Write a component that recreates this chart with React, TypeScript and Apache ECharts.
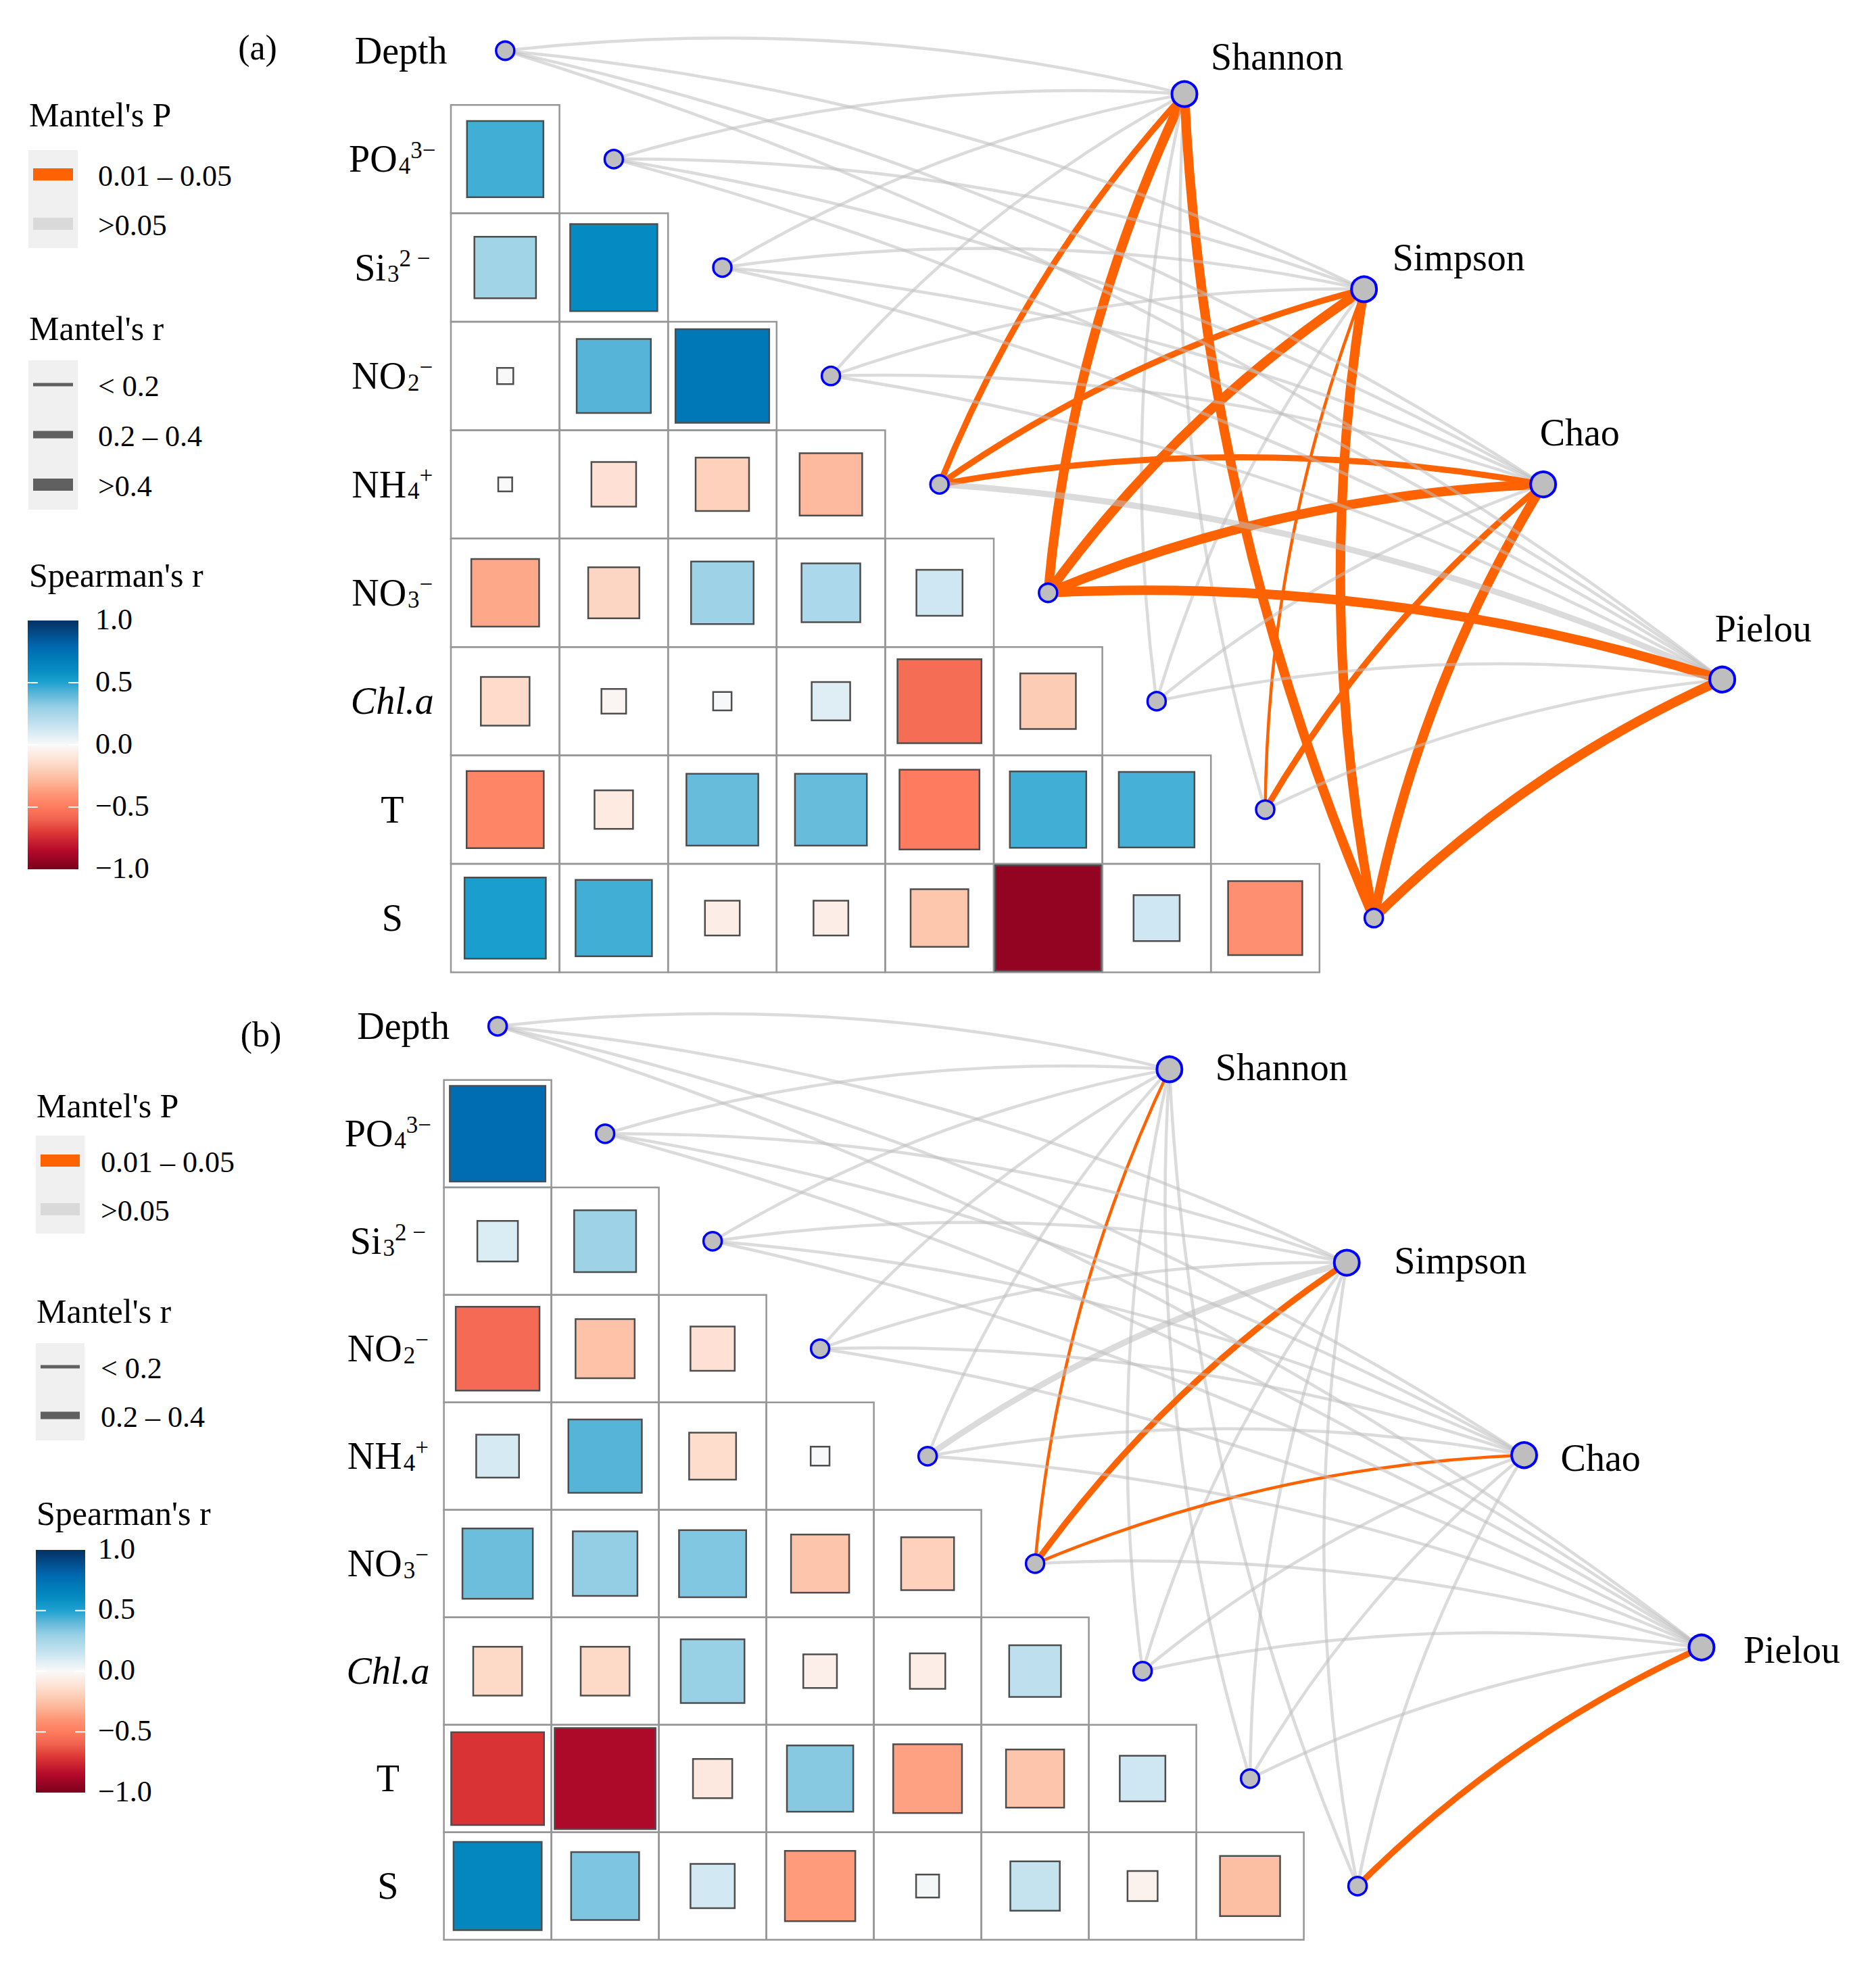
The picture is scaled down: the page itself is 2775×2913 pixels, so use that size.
import React, { useEffect, useRef } from "react";
import * as echarts from "echarts";

const FONT = '"Liberation Serif", "Times New Roman", Times, serif';

// ---------------- data ----------------
const VARIABLES = ["Depth", "PO4", "Si", "NO2", "NH4", "NO3", "Chl.a", "T", "S"];
// label parts: [main, subscript, superscript, italic?]
const VARIABLE_LABEL_PARTS: [string, string, string, boolean][] = [
  ["Depth", "", "", false],
  ["PO", "4", "3−", false],
  ["Si", "3", "2 −", false],
  ["NO", "2", "−", false],
  ["NH", "4", "+", false],
  ["NO", "3", "−", false],
  ["Chl.a", "", "", true],
  ["T", "", "", false],
  ["S", "", "", false],
];
const TARGETS = ["Shannon", "Simpson", "Chao", "Pielou"];

// Spearman's r, lower triangle (row i, columns 0..i-1)
const SPEARMAN_A = [
  [],
  [0.45],
  [0.27, 0.61],
  [-0.003, 0.42, 0.72],
  [-0.001, -0.12, -0.19, -0.28],
  [-0.34, -0.17, 0.28, 0.24, 0.13],
  [-0.15, -0.02, 0.006, 0.08, -0.56, -0.21],
  [-0.46, -0.08, 0.39, 0.39, -0.5, 0.45, 0.44],
  [0.52, 0.45, -0.06, -0.06, -0.23, -0.94, 0.13, -0.42],
];
const SPEARMAN_B = [
  [],
  [0.77],
  [0.095, 0.28],
  [-0.57, -0.25, -0.12],
  [0.11, 0.42, -0.14, 0.007],
  [0.38, 0.31, 0.34, -0.24, -0.19],
  [-0.155, -0.155, 0.3, -0.056, -0.065, 0.18],
  [-0.72, -0.87, -0.087, 0.33, -0.36, -0.24, 0.13],
  [0.64, 0.35, 0.12, -0.38, 0.016, 0.16, -0.04, -0.26],
];

// Mantel's P class per target (rows) and variable (cols): 1 = 0.01–0.05, 0 = >0.05
const MANTEL_P_A = [
  [0, 0, 0, 0, 1, 1, 0, 0, 1],
  [0, 0, 0, 0, 1, 1, 0, 1, 1],
  [0, 0, 0, 0, 1, 1, 0, 1, 1],
  [0, 0, 0, 0, 0, 1, 0, 0, 1],
];
// Mantel's r class: 0 = <0.2, 1 = 0.2–0.4, 2 = >0.4
const MANTEL_R_A = [
  [0, 0, 0, 0, 1, 2, 0, 0, 2],
  [0, 0, 0, 0, 1, 2, 0, 0, 2],
  [0, 0, 0, 0, 1, 2, 0, 1, 2],
  [0, 0, 0, 0, 1, 2, 0, 0, 2],
];
const MANTEL_P_B = [
  [0, 0, 0, 0, 0, 1, 0, 0, 0],
  [0, 0, 0, 0, 0, 1, 0, 0, 0],
  [0, 0, 0, 0, 0, 1, 0, 0, 0],
  [0, 0, 0, 0, 0, 0, 0, 0, 1],
];
const MANTEL_R_B = [
  [0, 0, 0, 0, 0, 0, 0, 0, 0],
  [0, 0, 0, 0, 1, 1, 0, 0, 0],
  [0, 0, 0, 0, 0, 0, 0, 0, 0],
  [0, 0, 0, 0, 0, 0, 0, 0, 1],
];

const P_CLASS_LABELS = ["0.01 – 0.05", ">0.05"];
const R_CLASS_LABELS_A = ["< 0.2", "0.2 – 0.4", ">0.4"];
const R_CLASS_LABELS_B = ["< 0.2", "0.2 – 0.4"];
const COLORBAR_TICKS = [1.0, 0.5, 0.0, -0.5, -1.0];
const COLORBAR_TICK_LABELS = ["1.0", "0.5", "0.0", "−0.5", "−1.0"];

// ---------------- styles ----------------
const ORANGE = "#FF6200";
const GRAY_LINK = "#BDBDBD";
const LINE_WIDTHS = [4.5, 9, 14];
const LEGEND_LINE_WIDTHS = [5, 11, 18];
const CURVENESS = 0.09;
const MAIN_SIZE = 56;
const SCRIPT_SIZE = 35;

const PALETTE: [number, string][] = [
  [-1, "#7A001C"],
  [-0.85, "#B50A2B"],
  [-0.7, "#DE3936"],
  [-0.6, "#F0634F"],
  [-0.5, "#FF7B5F"],
  [-0.4, "#FE9474"],
  [-0.3, "#FDB597"],
  [-0.2, "#FDCFB8"],
  [-0.1, "#FEE6DB"],
  [0, "#F9F9F9"],
  [0.1, "#D8EBF4"],
  [0.2, "#B8DDEC"],
  [0.3, "#98D0E6"],
  [0.4, "#62B9DA"],
  [0.5, "#1FA2D0"],
  [0.6, "#068DC2"],
  [0.7, "#007BB8"],
  [0.8, "#0066AE"],
  [1, "#063062"],
];

function hexToRgb(h: string) {
  const n = parseInt(h.slice(1), 16);
  return [(n >> 16) & 255, (n >> 8) & 255, n & 255];
}
function lerpColor(a: string, b: string, t: number) {
  const ca = hexToRgb(a);
  const cb = hexToRgb(b);
  const c = ca.map((v, i) => Math.round(v + (cb[i] - v) * t));
  return `rgb(${c[0]},${c[1]},${c[2]})`;
}
function spearmanColor(r: number) {
  const v = Math.max(-1, Math.min(1, r));
  for (let k = 0; k < PALETTE.length - 1; k++) {
    const [v0, c0] = PALETTE[k];
    const [v1, c1] = PALETTE[k + 1];
    if (v >= v0 && v <= v1) return lerpColor(c0, c1, (v - v0) / (v1 - v0));
  }
  return PALETTE[PALETTE.length - 1][1];
}

let measureCtx: CanvasRenderingContext2D | null = null;
function measure(text: string, size: number, italic = false) {
  if (!text) return 0;
  if (!measureCtx) measureCtx = document.createElement("canvas").getContext("2d");
  if (!measureCtx) return text.length * size * 0.5;
  measureCtx.font = `${italic ? "italic " : ""}${size}px ${FONT}`;
  return measureCtx.measureText(text).width;
}

// ---------------- layout ----------------
const PANELS = [
  {
    corr: SPEARMAN_A,
    mp: MANTEL_P_A,
    mr: MANTEL_R_A,
    left: 667,
    cellW: 160.6,
    row0: 75,
    cellH: 160.4,
    labelX: -1.04,
    depthLabelX: -0.96,
    targetPos: [
      [6.256, 0.4],
      [7.91, 2.2],
      [9.56, 4.0],
      [11.21, 5.8],
    ],
    targetLabelOffset: [
      [39, -55],
      [42, -47],
      [-5, -77],
      [-11, -75],
    ],
  },
  {
    corr: SPEARMAN_B,
    mp: MANTEL_P_B,
    mr: MANTEL_R_B,
    left: 656.6,
    cellW: 159,
    row0: 1518.3,
    cellH: 159,
    labelX: -1.02,
    depthLabelX: -0.877,
    targetPos: [
      [6.25, 0.4],
      [7.9, 2.2],
      [9.55, 3.99],
      [11.2, 5.78],
    ],
    targetLabelOffset: [
      [68, -3],
      [70, -3],
      [54, 4],
      [62, 4],
    ],
  },
];

const LEGENDS = [
  {
    tag: "(a)", tagX: 381, tagY: 70,
    x: 43, pTitleY: 170, bgX: 42, bgW: 73, pBgY: 222, pBgH: 145, pKeyY: [258, 331],
    rTitleY: 486, rBgY: 533, rBgH: 221, rKeyY: [569, 643, 717], rLabels: R_CLASS_LABELS_A,
    sTitleY: 851, barX: 41, barW: 75, barTop: 918, barBottom: 1286, labelX: 145,
  },
  {
    tag: "(b)", tagX: 386, tagY: 1530,
    x: 54, pTitleY: 1636, bgX: 53, bgW: 72, pBgY: 1680, pBgH: 145, pKeyY: [1717, 1789],
    rTitleY: 1940, rBgY: 1987, rBgH: 144, rKeyY: [2022, 2094], rLabels: R_CLASS_LABELS_B,
    sTitleY: 2239, barX: 53, barW: 73, barTop: 2293, barBottom: 2652, labelX: 149,
  },
];

function textEl(x: number, y: number, text: string, size: number, align = "left") {
  return {
    type: "text",
    x,
    y,
    silent: true,
    z: 10,
    style: {
      text,
      fontSize: size,
      fontFamily: FONT,
      fill: "#000",
      align,
      verticalAlign: "middle",
      textAlign: align,
      textVerticalAlign: "middle",
    },
  };
}

function legendElements(L: any) {
  const els: any[] = [];
  els.push(textEl(L.tagX, L.tagY, L.tag, 52, "center"));
  // Mantel's P
  els.push(textEl(L.x, L.pTitleY, "Mantel's P", 50));
  els.push({ type: "rect", silent: true, z: 5, shape: { x: L.bgX, y: L.pBgY, width: L.bgW, height: L.pBgH }, style: { fill: "#F0F0F0" } });
  P_CLASS_LABELS.forEach((lab, k) => {
    const y = L.pKeyY[k];
    els.push({
      type: "rect", silent: true, z: 6,
      shape: { x: L.bgX + 7, y: y - 9, width: L.bgW - 14, height: 18 },
      style: { fill: k === 0 ? ORANGE : "#D9D9D9" },
    });
    els.push(textEl(L.labelX, y + 2, lab, 44));
  });
  // Mantel's r
  els.push(textEl(L.x, L.rTitleY, "Mantel's r", 50));
  els.push({ type: "rect", silent: true, z: 5, shape: { x: L.bgX, y: L.rBgY, width: L.bgW, height: L.rBgH }, style: { fill: "#F0F0F0" } });
  L.rLabels.forEach((lab: string, k: number) => {
    const y = L.rKeyY[k];
    const w = LEGEND_LINE_WIDTHS[k];
    els.push({
      type: "rect", silent: true, z: 6,
      shape: { x: L.bgX + 7, y: y - w / 2, width: L.bgW - 14, height: w },
      style: { fill: "#606060" },
    });
    els.push(textEl(L.labelX, y + 2, lab, 44));
  });
  // Spearman's r colour bar
  els.push(textEl(L.x, L.sTitleY, "Spearman's r", 50));
  const stops = PALETTE.slice()
    .reverse()
    .map(([v, c]) => ({ offset: (1 - v) / 2, color: c }));
  els.push({
    type: "rect", silent: true, z: 5,
    shape: { x: L.barX, y: L.barTop, width: L.barW, height: L.barBottom - L.barTop },
    style: { fill: new echarts.graphic.LinearGradient(0, 0, 0, 1, stops) },
  });
  COLORBAR_TICKS.forEach((v, k) => {
    const y = L.barTop + ((1 - v) / 2) * (L.barBottom - L.barTop);
    if (Math.abs(v) < 1) {
      els.push({ type: "line", silent: true, z: 6, shape: { x1: L.barX, y1: y, x2: L.barX + 15, y2: y }, style: { stroke: "#fff", lineWidth: 2 } });
      els.push({ type: "line", silent: true, z: 6, shape: { x1: L.barX + L.barW - 15, y1: y, x2: L.barX + L.barW, y2: y }, style: { stroke: "#fff", lineWidth: 2 } });
    }
    els.push(textEl(L.labelX - 4, y - 2, COLORBAR_TICK_LABELS[k], 44));
  });
  return els;
}

function labelText(x: number, y: number, text: string, size: number, italic = false) {
  return {
    type: "text",
    x,
    y,
    style: {
      text,
      fontSize: size,
      fontFamily: FONT,
      fontStyle: italic ? "italic" : "normal",
      fill: "#000",
      align: "left",
      verticalAlign: "middle",
      textAlign: "left",
      textVerticalAlign: "middle",
    },
  };
}

function variableLabel(cx: number, cy: number, idx: number) {
  const [main, sub, sup, italic] = VARIABLE_LABEL_PARTS[idx];
  const gap = sub || sup ? 2 : 0;
  const wMain = measure(main, MAIN_SIZE, italic);
  const wSub = measure(sub, SCRIPT_SIZE);
  const wSup = measure(sup, SCRIPT_SIZE);
  const total = wMain + gap + wSub + wSup;
  const left = cx - total / 2;
  const children: any[] = [labelText(left, cy, main, MAIN_SIZE, italic)];
  if (sub) children.push(labelText(left + wMain + gap, cy + 10, sub, SCRIPT_SIZE));
  if (sup) children.push(labelText(left + wMain + gap + wSub, cy - 13, sup, SCRIPT_SIZE));
  return { type: "group", children };
}

function buildOption() {
  const grids: any[] = [];
  const xAxes: any[] = [];
  const yAxes: any[] = [];
  const series: any[] = [];

  PANELS.forEach((P, p) => {
    grids.push({
      left: P.left,
      top: P.row0 - 0.45 * P.cellH,
      width: 13 * P.cellW,
      height: 8.95 * P.cellH,
      containLabel: false,
      outerBoundsMode: "none",
      show: false,
    });
    xAxes.push({ gridIndex: p, type: "value", min: -0.5, max: 12.5, show: false });
    yAxes.push({ gridIndex: p, type: "value", min: -0.45, max: 8.5, inverse: true, show: false });

    const cells: number[][] = [];
    const squares: number[][] = [];
    for (let i = 1; i < VARIABLES.length; i++) {
      for (let j = 0; j < i; j++) {
        cells.push([j, i]);
        squares.push([j, i, P.corr[i][j]]);
      }
    }

    series.push({
      type: "custom",
      coordinateSystem: "cartesian2d",
      xAxisIndex: p,
      yAxisIndex: p,
      silent: true,
      z: 1,
      clip: false,
      data: cells,
      renderItem: (params: any, api: any) => {
        const c = api.coord([api.value(0), api.value(1)]);
        const s = api.size([1, 1]);
        return {
          type: "rect",
          shape: { x: c[0] - s[0] / 2, y: c[1] - s[1] / 2, width: s[0], height: s[1] },
          style: { fill: "none", stroke: "#969696", lineWidth: 2.5 },
        };
      },
    });

    series.push({
      type: "custom",
      coordinateSystem: "cartesian2d",
      xAxisIndex: p,
      yAxisIndex: p,
      silent: true,
      z: 2,
      clip: false,
      data: squares,
      renderItem: (params: any, api: any) => {
        const r = api.value(2);
        const c = api.coord([api.value(0), api.value(1)]);
        const s = api.size([1, 1]);
        const f = 0.1 + 0.9 * Math.sqrt(Math.abs(r));
        const w = s[0] * f;
        const h = s[1] * f;
        return {
          type: "rect",
          shape: { x: c[0] - w / 2, y: c[1] - h / 2, width: w, height: h },
          style: { fill: spearmanColor(r), stroke: "#4D4D4D", lineWidth: 2.5 },
        };
      },
    });

    // variable labels
    series.push({
      type: "custom",
      coordinateSystem: "cartesian2d",
      xAxisIndex: p,
      yAxisIndex: p,
      silent: true,
      z: 2,
      clip: false,
      data: VARIABLES.map((v, i) => [0, i]),
      renderItem: (params: any, api: any) => {
        const i = api.value(1);
        const c = api.coord([i === 0 ? P.depthLabelX : P.labelX, i]);
        return variableLabel(c[0], c[1], i);
      },
    });

    // Mantel links
    const links: any[] = [];
    TARGETS.forEach((t, k) => {
      VARIABLES.forEach((v, i) => {
        const sig = P.mp[k][i] === 1;
        links.push({
          coords: [[i, i], P.targetPos[k]],
          lineStyle: {
            color: sig ? ORANGE : GRAY_LINK,
            width: LINE_WIDTHS[P.mr[k][i]],
            opacity: sig ? 1 : 0.55,
            curveness: CURVENESS,
          },
        });
      });
    });
    series.push({
      type: "lines",
      coordinateSystem: "cartesian2d",
      xAxisIndex: p,
      yAxisIndex: p,
      silent: true,
      z: 3,
      clip: false,
      symbol: "none",
      data: links,
    });

    // nodes
    series.push({
      type: "scatter",
      xAxisIndex: p,
      yAxisIndex: p,
      silent: true,
      z: 4,
      clip: false,
      symbol: "circle",
      symbolSize: 27,
      itemStyle: { color: "#BEBEBE", borderColor: "#0000FF", borderWidth: 3.5, opacity: 1 },
      data: VARIABLES.map((v, i) => [i, i]),
    });
    series.push({
      type: "scatter",
      xAxisIndex: p,
      yAxisIndex: p,
      silent: true,
      z: 4,
      clip: false,
      symbol: "circle",
      symbolSize: 37,
      itemStyle: { color: "#BEBEBE", borderColor: "#0000FF", borderWidth: 4, opacity: 1 },
      data: P.targetPos.map((q) => [q[0], q[1]]),
    });

    // target labels
    series.push({
      type: "custom",
      coordinateSystem: "cartesian2d",
      xAxisIndex: p,
      yAxisIndex: p,
      silent: true,
      z: 5,
      clip: false,
      data: P.targetPos.map((q, k) => [q[0], q[1], k]),
      renderItem: (params: any, api: any) => {
        const k = api.value(2);
        const c = api.coord([api.value(0), api.value(1)]);
        const off = P.targetLabelOffset[k];
        return labelText(c[0] + off[0], c[1] + off[1], TARGETS[k], MAIN_SIZE);
      },
    });
  });

  const graphics: any[] = [];
  LEGENDS.forEach((L) => graphics.push(...legendElements(L)));

  return {
    animation: false,
    backgroundColor: "#ffffff",
    grid: grids,
    xAxis: xAxes,
    yAxis: yAxes,
    series,
    graphic: { elements: graphics },
  };
}

export default function App() {
  const ref = useRef<HTMLDivElement>(null);
  useEffect(() => {
    if (!ref.current) return;
    document.body.style.margin = "0";
    const chart = echarts.init(ref.current, undefined, { renderer: "svg" });
    chart.setOption(buildOption() as any);
    return () => chart.dispose();
  }, []);
  return (
    <div
      ref={ref}
      style={{ position: "absolute", left: 0, top: 0, width: 2775, height: 2913, background: "#fff" }}
    />
  );
}
